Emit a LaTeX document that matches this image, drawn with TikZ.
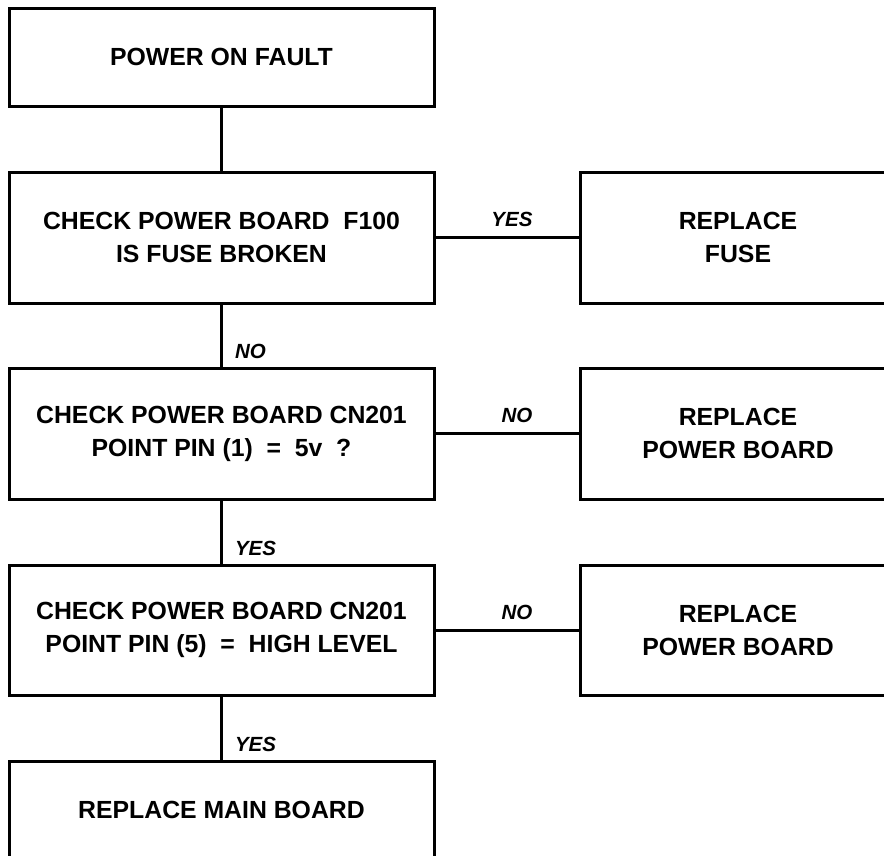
\documentclass[tikz,border=0pt]{standalone}
\usepackage{fontspec}
\setmainfont{Liberation Sans}
\usetikzlibrary{positioning}

\begin{document}
\begin{tikzpicture}[
    x=1pt, y=-1pt,
    box/.style={rectangle, draw=black, line width=3pt, inner sep=0pt,
                minimum width=425pt, minimum height=131pt, align=center,
                font=\fontsize{24.8}{33}\selectfont\bfseries},
    sidebox/.style={box, minimum width=316pt},
    lbl/.style={font=\fontsize{20.5}{22}\selectfont\bfseries\itshape, inner sep=0pt},
    link/.style={line width=3pt, black}
]
\useasboundingbox (0,0) rectangle (884,855);

\node[box, minimum height=98pt] (fault)  at (221.5,57)    {POWER ON FAULT};
\node[box]                      (fuse)   at (221.5,237.5) {CHECK POWER BOARD\ \ F100\\IS FUSE BROKEN};
\node[box]                      (pinone) at (221.5,433.5) {CHECK POWER BOARD CN201\\POINT PIN (1)\ \ =\ \ 5v\ \ ?};
\node[box, minimum height=130pt] (pinfive) at (221.5,630) {CHECK POWER BOARD CN201\\POINT PIN (5)\ \ =\ \ HIGH LEVEL};
\node[box, minimum height=98pt] (mainbd) at (221.5,810)   {REPLACE MAIN BOARD};

\node[sidebox]                      (newfuse) at (738,237.5) {REPLACE\\FUSE};
\node[sidebox]                      (pwrone)  at (738,433.5) {REPLACE\\POWER BOARD};
\node[sidebox, minimum height=130pt] (pwrtwo) at (738,630)   {REPLACE\\POWER BOARD};

\draw[link] (fault.south)   -- (fuse.north);
\draw[link] (fuse.south)    -- node[lbl, pos=1, anchor=south west, xshift=12pt, yshift=6pt] {NO} (pinone.north);
\draw[link] (pinone.south)  -- node[lbl, pos=1, anchor=south west, xshift=12pt, yshift=6pt] {YES} (pinfive.north);
\draw[link] (pinfive.south) -- node[lbl, pos=1, anchor=south west, xshift=12pt, yshift=6pt] {YES} (mainbd.north);

\draw[link] (fuse.east)    -- node[lbl, above=9pt, xshift=5pt] {YES} (newfuse.west);
\draw[link] (pinone.east)  -- node[lbl, above=9pt, xshift=10pt] {NO} (pwrone.west);
\draw[link] (pinfive.east) -- node[lbl, above=9pt, xshift=10pt] {NO} (pwrtwo.west);
\end{tikzpicture}
\end{document}
